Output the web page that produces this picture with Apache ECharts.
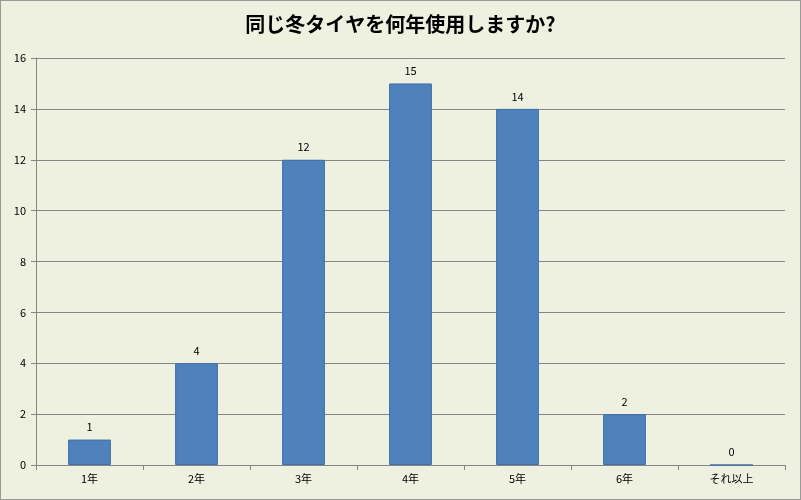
<!DOCTYPE html>
<html>
<head>
<meta charset="utf-8">
<script src="https://cdn.jsdelivr.net/npm/echarts@6/dist/echarts.min.js"></script>
<style>
  html, body { margin: 0; padding: 0; }
  #chart { width: 801px; height: 500px; background: #eef0e0; box-sizing: border-box; border: 1px solid #9a9a9a; }
</style>
</head>
<body>
<div id="chart"></div>
<script>
// データ
const titleText = '同じ冬タイヤを何年使用しますか?';
const categories = ['1年', '2年', '3年', '4年', '5年', '6年', 'それ以上'];
const counts = [1, 4, 12, 15, 14, 2, 0];

const chart = echarts.init(document.getElementById('chart'));
chart.setOption({
  animation: false,
  textStyle: { fontFamily: 'Noto Sans CJK JP' },
  title: {
    text: titleText,
    left: 'center',
    top: 8,
    textStyle: { fontSize: 20, fontWeight: 'bold', color: '#000', fontFamily: 'Noto Sans CJK JP' }
  },
  grid: { left: 35, right: 15, top: 57, bottom: 34 },
  xAxis: {
    type: 'category',
    data: categories,
    axisLine: { lineStyle: { color: '#868686' } },
    axisTick: { show: true, alignWithLabel: false, length: 5, lineStyle: { color: '#868686' } },
    axisLabel: { color: '#000', fontSize: 11, margin: 8 }
  },
  yAxis: {
    type: 'value',
    min: 0,
    max: 16,
    interval: 2,
    axisLine: { show: true, lineStyle: { color: '#868686' } },
    axisTick: { show: true, length: 5, lineStyle: { color: '#868686' } },
    axisLabel: { color: '#000', fontSize: 11, margin: 10 },
    splitLine: { lineStyle: { color: '#868686' } }
  },
  series: [{
    type: 'bar',
    data: counts,
    barWidth: '40%',
    itemStyle: { color: '#4f81bd', borderColor: '#3f6fa8', borderWidth: 1 },
    label: { show: true, position: 'top', color: '#000', fontSize: 11, distance: 7 }
  }]
});
</script>
</body>
</html>
